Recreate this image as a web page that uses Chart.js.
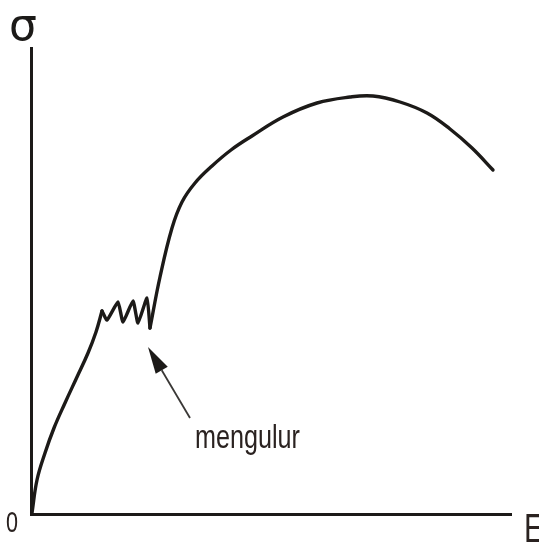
<!DOCTYPE html>
<html>
<head>
<meta charset="utf-8">
<script src="https://cdn.jsdelivr.net/npm/chart.js@4/dist/chart.umd.min.js"></script>
<style>
  html, body { margin: 0; padding: 0; background: #ffffff; }
  #wrap { width: 539px; height: 544px; }
</style>
</head>
<body>
<div id="wrap"><canvas id="c" width="539" height="544"></canvas></div>
<script>
// Stress–strain curve (strain along x, stress along y, arbitrary units)
const elasticStrain = [0, 5, 13, 22, 33, 45, 56, 64, 70];
const elasticStress = [0, 33, 60, 85, 110, 136, 160, 181, 202];

// yield plateau with its serrations ("mengulur")
const yieldStrain = [70, 75, 86, 91, 101, 106, 115, 118];
const yieldStress = [202, 193, 211, 191, 212, 190, 215, 185];

// strain hardening up to the ultimate stress, then necking
const hardenStrain = [118, 128, 140, 150, 163, 180, 199, 220, 251, 285, 318, 341, 368, 395, 418, 440, 461];
const hardenStress = [185, 236, 285, 311, 330, 347, 363, 377, 396, 410, 416, 417, 411, 400, 384, 365, 343];

// annotation arrow: from label end to the plateau
const arrowFrom = [158, 95];
const arrowTo = [116, 166];
const arrowLabel = 'mengulur';

const axisLabels = { y: 'σ', x: 'E', origin: '0' };

const xMax = 480;
const yMax = 466;

const toPts = (xs, ys) => xs.map((x, i) => ({ x: x, y: ys[i] }));

const lineColor = '#1c1a18';

const decor = {
  id: 'decor',
  beforeDatasetsDraw(chart) {
    const { ctx, chartArea: a } = chart;
    ctx.save();
    ctx.strokeStyle = lineColor;
    ctx.lineWidth = 3;
    ctx.lineCap = 'butt';
    ctx.beginPath();
    ctx.moveTo(a.left - 0.5, a.top);
    ctx.lineTo(a.left - 0.5, a.bottom + 1.5);
    ctx.lineTo(a.right, a.bottom + 1.5);
    ctx.stroke();
    ctx.restore();
  },
  afterDatasetsDraw(chart) {
    const { ctx, scales } = chart;
    const sx = scales.x, sy = scales.y;
    const fx = sx.getPixelForValue(arrowFrom[0]), fy = sy.getPixelForValue(arrowFrom[1]);
    const tx = sx.getPixelForValue(arrowTo[0]), ty = sy.getPixelForValue(arrowTo[1]);
    const ang = Math.atan2(ty - fy, tx - fx);
    const headLen = 27, headHalf = 7;
    const bx = tx - headLen * Math.cos(ang), by = ty - headLen * Math.sin(ang);
    ctx.save();
    ctx.strokeStyle = '#3a3836';
    ctx.lineWidth = 1.8;
    ctx.beginPath();
    ctx.moveTo(fx, fy);
    ctx.lineTo(bx, by);
    ctx.stroke();
    ctx.fillStyle = '#1c1a18';
    ctx.beginPath();
    ctx.moveTo(tx, ty);
    ctx.lineTo(bx + headHalf * Math.sin(ang), by - headHalf * Math.cos(ang));
    ctx.lineTo(bx - headHalf * Math.sin(ang), by + headHalf * Math.cos(ang));
    ctx.closePath();
    ctx.fill();

    // condensed sans text
    const drawText = (txt, x, y, size, scaleX) => {
      ctx.save();
      ctx.translate(x, y);
      ctx.scale(scaleX, 1);
      ctx.font = size + 'px "Liberation Sans", Arial, sans-serif';
      ctx.textBaseline = 'alphabetic';
      ctx.textAlign = 'left';
      ctx.fillStyle = '#2a2220';
      ctx.fillText(txt, 0, 0);
      ctx.restore();
    };
    drawText(arrowLabel, 195, 448, 34, 0.74);
    drawText(axisLabels.origin, 6, 532, 30, 0.72);
    drawText(axisLabels.x, 524, 542, 40, 0.75);

    ctx.save();
    ctx.font = '44px "DejaVu Sans", sans-serif';
    ctx.fillStyle = lineColor;
    ctx.textBaseline = 'alphabetic';
    ctx.fillText(axisLabels.y, 9, 40);
    ctx.restore();
    ctx.restore();
  }
};

const common = {
  borderColor: lineColor,
  borderWidth: 3.4,
  pointRadius: 0,
  fill: false,
  clip: false,
  borderCapStyle: 'round',
  borderJoinStyle: 'round'
};

new Chart(document.getElementById('c'), {
  type: 'line',
  data: {
    datasets: [
      Object.assign({ data: toPts(elasticStrain, elasticStress), tension: 0.4 }, common),
      Object.assign({ data: toPts(yieldStrain, yieldStress), tension: 0.15 }, common),
      Object.assign({ data: toPts(hardenStrain, hardenStress), tension: 0.4 }, common)
    ]
  },
  options: {
    responsive: false,
    animation: false,
    devicePixelRatio: 1,
    layout: { padding: { left: 32, top: 47, right: 27, bottom: 31 } },
    plugins: { legend: { display: false }, tooltip: { enabled: false } },
    scales: {
      x: { type: 'linear', display: false, min: 0, max: xMax },
      y: { type: 'linear', display: false, min: 0, max: yMax }
    }
  },
  plugins: [decor]
});
</script>
</body>
</html>
